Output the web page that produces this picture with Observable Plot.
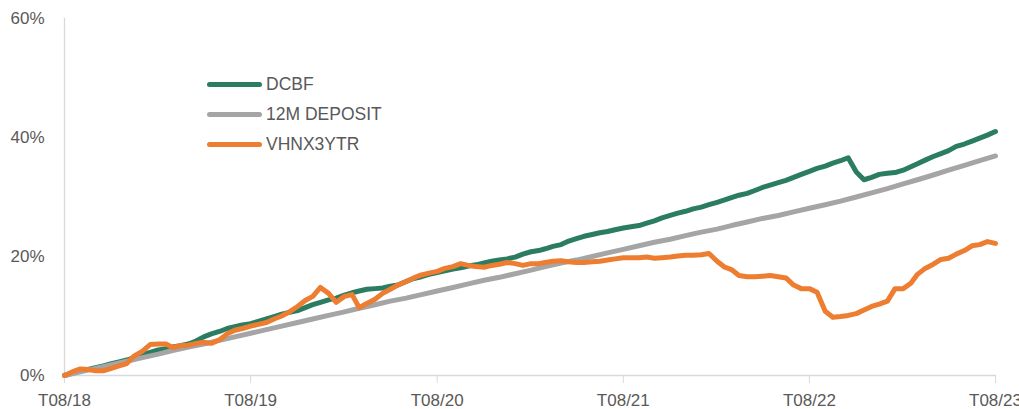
<!DOCTYPE html>
<html>
<head>
<meta charset="utf-8">
<script src="https://cdn.jsdelivr.net/npm/d3@7"></script>
<script src="https://cdn.jsdelivr.net/npm/@observablehq/plot@0.6"></script>
<style>
  html, body { margin: 0; padding: 0; background: #fff; }
  #wrap { position: relative; width: 1019px; height: 409px; font-family: "Liberation Sans", Arial, sans-serif; }
  #legend { position: absolute; left: 207px; top: 69px; }
  .row { display: flex; align-items: center; height: 30px; }
  .sw { width: 55px; height: 5px; border-radius: 3px; display: inline-block; }
  .lab { margin-left: 4px; font-size: 17.5px; color: #595959; }
</style>
</head>
<body>
<div id="wrap"><div id="legend"></div></div>
<script>
// Series names and colours
const seriesNames = ["DCBF", "12M DEPOSIT", "VHNX3YTR"];
const seriesColors = ["#2a7d61", "#a5a5a5", "#ed7d31"];

// Axis ticks
const yTicks = [0, 20, 40, 60];
const yTickLabels = ["0%", "20%", "40%", "60%"];
const xTickYears = [2018, 2019, 2020, 2021, 2022, 2023];
const xTickLabels = ["T08/18", "T08/19", "T08/20", "T08/21", "T08/22", "T08/23"];

// DCBF, semi-monthly from Aug 2018 to Aug 2023 (%)
const dcbf = [
  0.0, 0.4, 0.8, 1.0, 1.3, 1.6, 2.0, 2.3, 2.6, 3.0,
  3.5, 3.9, 4.3, 4.5, 4.8, 5.0, 5.3, 5.8, 6.5, 7.0,
  7.4, 7.9, 8.2, 8.5, 8.7, 9.1, 9.5, 9.9, 10.3, 10.6,
  10.9, 11.4, 11.9, 12.3, 12.7, 13.0, 13.5, 13.9, 14.2, 14.5,
  14.6, 14.7, 15.0, 15.2, 15.8, 16.3, 16.6, 17.0, 17.3, 17.6,
  17.9, 18.1, 18.4, 18.6, 18.9, 19.2, 19.4, 19.6, 19.9, 20.4,
  20.8, 21.0, 21.3, 21.7, 22.0, 22.6, 23.0, 23.4, 23.7, 24.0,
  24.2, 24.5, 24.8, 25.0, 25.2, 25.6, 26.0, 26.5, 26.9, 27.3,
  27.6, 28.0, 28.3, 28.7, 29.1, 29.5, 29.9, 30.3, 30.6, 31.1,
  31.6, 32.0, 32.4, 32.8, 33.3, 33.8, 34.3, 34.8, 35.2, 35.7,
  36.1, 36.6, 34.2, 32.9, 33.3, 33.8, 34.0, 34.1, 34.5, 35.1,
  35.6, 36.2, 36.8, 37.3, 37.8, 38.5, 38.9, 39.4, 39.9, 40.4,
  41.0
];

// 12M DEPOSIT, monthly from Aug 2018 to Aug 2023 (%)
const deposit = [
  0.0, 0.6, 1.2, 1.8, 2.4, 3.0, 3.6, 4.2, 4.8, 5.3,
  5.9, 6.5, 7.1, 7.7, 8.3, 8.9, 9.5, 10.1, 10.7, 11.3,
  11.9, 12.5, 13.0, 13.6, 14.2, 14.8, 15.4, 16.0, 16.5, 17.1,
  17.7, 18.3, 18.9, 19.4, 20.0, 20.6, 21.2, 21.8, 22.4, 22.9,
  23.5, 24.1, 24.6, 25.2, 25.8, 26.4, 26.9, 27.5, 28.1, 28.7,
  29.3, 30.0, 30.7, 31.4, 32.2, 32.9, 33.7, 34.5, 35.3, 36.1,
  36.9
];

// VHNX3YTR, semi-monthly from Aug 2018 to Aug 2023 (%)
const vhnx = [
  0.0, 0.6, 1.1, 1.0, 0.8, 0.8, 1.2, 1.6, 2.0, 3.3,
  4.1, 5.2, 5.3, 5.3, 4.7, 5.0, 5.1, 5.4, 5.6, 5.4,
  6.0, 7.0, 7.6, 7.9, 8.3, 8.6, 8.9, 9.5, 10.0, 10.7,
  11.6, 12.6, 13.3, 14.8, 13.8, 12.3, 13.3, 13.6, 11.4, 12.1,
  12.8, 13.8, 14.5, 15.2, 15.8, 16.4, 16.9, 17.2, 17.5, 18.0,
  18.3, 18.8, 18.5, 18.3, 18.2, 18.5, 18.7, 19.0, 18.8, 18.5,
  18.8, 18.8, 19.0, 19.2, 19.3, 19.1, 19.0, 19.0, 19.1, 19.2,
  19.4, 19.6, 19.8, 19.8, 19.8, 19.9, 19.7, 19.8, 19.9, 20.1,
  20.2, 20.2, 20.3, 20.5, 19.2, 18.2, 17.8, 16.8, 16.6, 16.6,
  16.7, 16.8, 16.6, 16.4, 15.2, 14.6, 14.6, 14.0, 10.8, 9.8,
  9.9, 10.1, 10.4, 11.0, 11.6, 12.0, 12.5, 14.6, 14.6, 15.5,
  17.0, 18.0, 18.7, 19.5, 19.7, 20.4, 21.0, 21.8, 22.0, 22.5,
  22.2
];

// Dates: semi-monthly (1st and 16th) and monthly
const halfDate = i => new Date(Date.UTC(2018, 7 + Math.floor(i / 2), i % 2 ? 16 : 1));
const monthDate = i => new Date(Date.UTC(2018, 7 + i, 1));

const greenData = dcbf.map((v, i) => ({date: halfDate(i), value: v}));
const grayData = deposit.map((v, i) => ({date: monthDate(i), value: v}));
const orangeData = vhnx.map((v, i) => ({date: halfDate(i), value: v}));

const xTicks = xTickYears.map(y => new Date(Date.UTC(y, 7, 1)));
const xFmt = d => xTickLabels[xTickYears.indexOf(d.getUTCFullYear())];
const yFmt = d => yTickLabels[yTicks.indexOf(d)];

const lineOpts = {x: "date", y: "value", strokeWidth: 5, strokeLinejoin: "round", strokeLinecap: "round"};

const chart = Plot.plot({
  width: 1019,
  height: 409,
  marginLeft: 64,
  marginRight: 24,
  marginTop: 18,
  marginBottom: 34,
  style: {fontFamily: "'Liberation Sans', Arial, sans-serif", fontSize: "17px", background: "transparent", overflow: "visible"},
  x: {type: "utc", domain: [xTicks[0], xTicks[xTicks.length - 1]]},
  y: {domain: [0, 60]},
  marks: [
    Plot.frame({anchor: "left", stroke: "#d9d9d9", strokeWidth: 1.3}),
    Plot.frame({anchor: "bottom", stroke: "#d9d9d9", strokeWidth: 1.3}),
    Plot.axisY({ticks: yTicks, tickFormat: yFmt, tickSize: 0, tickPadding: 20, fill: "#595959", fontSize: 17, label: null}),
    Plot.axisX({ticks: xTicks, tickFormat: xFmt, tickSize: 8, tickPadding: 10, stroke: "#d9d9d9", fill: "#595959", fontSize: 17, label: null}),
    Plot.line(greenData, {...lineOpts, stroke: seriesColors[0]}),
    Plot.line(grayData, {...lineOpts, stroke: seriesColors[1]}),
    Plot.line(orangeData, {...lineOpts, stroke: seriesColors[2]})
  ]
});

document.getElementById("wrap").insertBefore(chart, document.getElementById("legend"));

const legend = document.getElementById("legend");
seriesNames.forEach((name, i) => {
  const row = document.createElement("div");
  row.className = "row";
  const sw = document.createElement("span");
  sw.className = "sw";
  sw.style.background = seriesColors[i];
  const lab = document.createElement("span");
  lab.className = "lab";
  lab.textContent = name;
  row.appendChild(sw);
  row.appendChild(lab);
  legend.appendChild(row);
});
</script>
</body>
</html>
